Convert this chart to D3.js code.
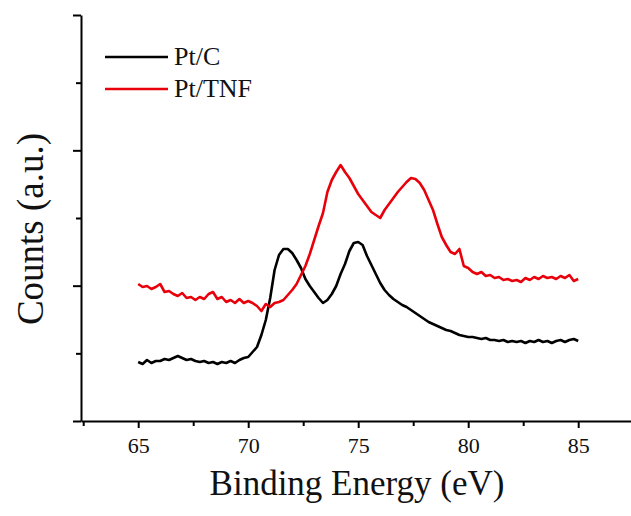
<!DOCTYPE html>
<html>
<head>
<meta charset="utf-8">
<script src="https://cdn.jsdelivr.net/npm/d3@7"></script>
<style>
  body { margin: 0; background: #fff; }
</style>
</head>
<body>
<svg id="chart" width="631" height="516"></svg>
<script>
// scan grid: 65 -> 85 eV, 0.2 eV step
const energyStart = 65, energyStep = 0.2;

// Pt/C counts (a.u.)
const ptC = [59,57,61,58,60,60,62,61,63,65,63,61,62,60,59,60,58,59,57,59,
  58,60,58,61,63,64,69,74,86,101,123,151,166,172,172,168,161,153,142,135,
  129,123,118,121,127,135,147,157,170,178,179,176,165,156,147,138,131,126,122,119,
  116,114,111,108,105,102,99,97,95,93,91,90,88,86,85,84,84,83,82,83,
  81,81,80,81,79,80,79,80,78,80,79,81,79,80,78,80,81,79,81,82,80];

// Pt/TNF counts (a.u.)
const ptTNF = [137,134,135,132,134,137,129,130,127,125,128,123,124,121,124,122,127,129,122,124,
  119,121,118,122,118,120,118,115,110,117,114,118,119,121,126,131,137,146,155,167,
  181,195,208,229,241,249,256,249,243,235,227,221,215,209,206,203,211,217,223,229,
  234,239,243,242,238,231,221,211,197,184,176,169,167,172,155,153,149,147,149,145,
  146,143,144,141,142,140,141,139,143,141,144,142,145,143,144,142,145,143,146,140,142];

const seriesNames = ['Pt/C', 'Pt/TNF'];
const seriesColors = ['#000000', '#e8000b'];

const xMajor = [65, 70, 75, 80, 85];
const xMinor = [62.5, 67.5, 72.5, 77.5, 82.5, 87.5];

const serif = 'Liberation Serif';

const svg = d3.select('#chart');
const mLeft = 81, mTop = 15, mBottom = 421;

// 22 px per eV, 65 eV sits at x=138
const x = d3.scaleLinear().domain([62.4, 87.5]).range([mLeft, mLeft + 25.1 * 22]);
const y = d3.scaleLinear().domain([0, 406]).range([mBottom, mTop]);

const yMajor = [0, 2, 4, 6].map(i => i * 406 / 6);
const yMinor = [1, 3, 5].map(i => i * 406 / 6);

const toPts = arr => arr.map((v, i) => [energyStart + i * energyStep, v]);

// axes
const gx = svg.append('g').attr('transform', 'translate(0,' + mBottom + ')');
gx.call(d3.axisBottom(x).tickValues(xMajor).tickSize(7).tickSizeOuter(0).tickFormat(d3.format('d')));
gx.append('g').call(d3.axisBottom(x).tickValues(xMinor).tickSize(5).tickSizeOuter(0).tickFormat(''))
  .select('.domain').remove();
gx.attr('font-family', serif);
gx.selectAll('line, path').attr('stroke', '#000').attr('stroke-width', 2);
gx.selectAll('text').attr('font-size', 22).attr('fill', '#111')
  .attr('font-family', serif).attr('dy', null).attr('y', 32);

const gy = svg.append('g').attr('transform', 'translate(' + mLeft + ',0)');
gy.call(d3.axisLeft(y).tickValues(yMajor).tickSize(8).tickSizeOuter(0).tickFormat(''));
gy.append('g').call(d3.axisLeft(y).tickValues(yMinor).tickSize(5).tickSizeOuter(0).tickFormat(''))
  .select('.domain').remove();
gy.selectAll('line, path').attr('stroke', '#000').attr('stroke-width', 2);

// data lines
const line = d3.line().x(d => x(d[0])).y(d => y(d[1]));
[ptC, ptTNF].forEach((s, i) => {
  svg.append('path')
    .datum(toPts(s))
    .attr('fill', 'none')
    .attr('stroke', seriesColors[i])
    .attr('stroke-width', 2.6)
    .attr('stroke-linejoin', 'round')
    .attr('d', line);
});

// legend
seriesNames.forEach((n, i) => {
  const ly = 57 + i * 32;
  svg.append('line').attr('x1', 105).attr('x2', 168).attr('y1', ly).attr('y2', ly)
    .attr('stroke', seriesColors[i]).attr('stroke-width', 2.6);
  svg.append('text').attr('x', 174).attr('y', ly + 8).attr('font-size', 26).attr('fill', '#111')
    .attr('font-family', serif).text(n);
});

// axis titles
svg.append('text').attr('x', 357).attr('y', 495).attr('text-anchor', 'middle')
  .attr('font-size', 35).attr('fill', '#111').attr('font-family', serif).text('Binding Energy (eV)');
svg.append('text').attr('transform', 'translate(43,229) rotate(-90)').attr('text-anchor', 'middle')
  .attr('font-size', 37).attr('fill', '#111').attr('font-family', serif).text('Counts (a.u.)');
</script>
</body>
</html>
